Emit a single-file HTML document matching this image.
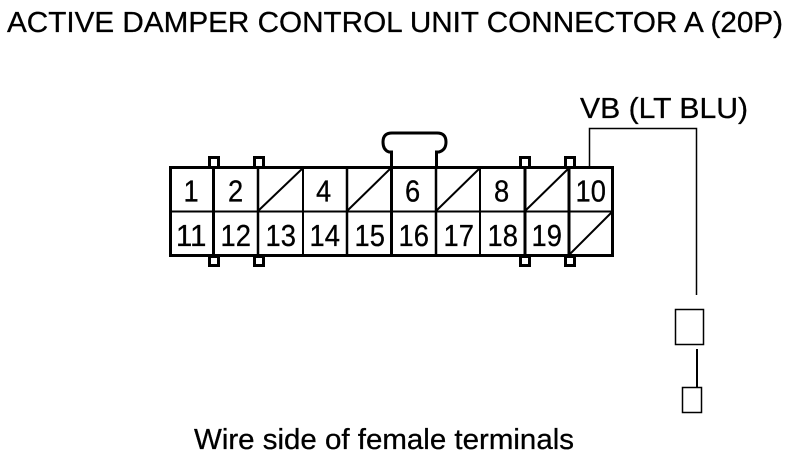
<!DOCTYPE html>
<html><head><meta charset="utf-8"><style>
html,body{margin:0;padding:0;background:#fff;width:800px;height:458px;overflow:hidden}
svg{display:block}
text{font-family:"Liberation Sans",sans-serif;fill:#000;stroke:#000;stroke-width:.3px}
</style></head><body>
<svg width="800" height="458" viewBox="0 0 800 458" xmlns="http://www.w3.org/2000/svg">
<g fill="#fff" stroke="#000" stroke-width="3">
<rect x="209.500" y="157.500" width="9" height="10"/>
<rect x="254.500" y="157.500" width="9" height="10"/>
<rect x="520.500" y="157.500" width="9" height="10"/>
<rect x="565.500" y="157.500" width="9" height="10"/>
<rect x="209.500" y="256.500" width="9" height="9"/>
<rect x="254.500" y="256.500" width="9" height="9"/>
<rect x="520.500" y="256.500" width="9" height="9"/>
<rect x="565.500" y="256.500" width="9" height="9"/>
</g>
<path d="M391.500 167V152H389Q383 150 383 142Q383 133 392 133H437Q446 133 446 142Q446 150 439 152H436.500V167" fill="none" stroke="#000" stroke-width="3"/>
<rect x="170.500" y="167.500" width="442" height="88" fill="#fff" stroke="#000" stroke-width="3"/>
<path d="M170 211.500H612" stroke="#000" stroke-width="2" fill="none"/>
<g stroke="#000" stroke-width="2" fill="none">
<path d="M303 168V255M480 168V255"/>
<path d="M258 168V255M347 168V255M436 168V255" stroke-width="2.500"/>
<path d="M213.500 168V255M391.500 168V255M525 168V255M569 168V255" stroke-width="3"/>
<path d="M258 211L303 168M347 211L391 168M436 211L480 168M525 211L569 168M569 255L612 212"/>
</g>
<path d="M589.500 167V128.500H696.500V295" fill="none" stroke="#000" stroke-width="1.500"/>
<path d="M697 349V388" fill="none" stroke="#000" stroke-width="2"/>
<rect x="675.500" y="309.500" width="28" height="35" fill="none" stroke="#000" stroke-width="1.500"/>
<rect x="682.500" y="387.500" width="19" height="25" fill="none" stroke="#000" stroke-width="1.500"/>
<text x="7" y="32" font-size="29" textLength="776" lengthAdjust="spacingAndGlyphs">ACTIVE DAMPER CONTROL UNIT CONNECTOR A (20P)</text>
<text x="580" y="118" font-size="29" textLength="168" lengthAdjust="spacingAndGlyphs">VB (LT BLU)</text>
<text x="194" y="449" font-size="29" textLength="380" lengthAdjust="spacingAndGlyphs">Wire side of female terminals</text>
<g font-size="31">
<text x="183.500" y="201.500" textLength="15.200" lengthAdjust="spacingAndGlyphs">1</text>
<text x="228" y="201.500" textLength="15.200" lengthAdjust="spacingAndGlyphs">2</text>
<text x="316" y="201.500" textLength="15.200" lengthAdjust="spacingAndGlyphs">4</text>
<text x="405" y="201.500" textLength="15.200" lengthAdjust="spacingAndGlyphs">6</text>
<text x="494" y="201.500" textLength="15.200" lengthAdjust="spacingAndGlyphs">8</text>
<text x="575.500" y="201.500" textLength="30.400" lengthAdjust="spacingAndGlyphs">10</text>
<text x="176" y="246" textLength="30.400" lengthAdjust="spacingAndGlyphs">11</text>
<text x="220.500" y="246" textLength="30.400" lengthAdjust="spacingAndGlyphs">12</text>
<text x="265.500" y="246" textLength="30.400" lengthAdjust="spacingAndGlyphs">13</text>
<text x="309.500" y="246" textLength="30.400" lengthAdjust="spacingAndGlyphs">14</text>
<text x="354.500" y="246" textLength="30.400" lengthAdjust="spacingAndGlyphs">15</text>
<text x="398.500" y="246" textLength="30.400" lengthAdjust="spacingAndGlyphs">16</text>
<text x="443.500" y="246" textLength="30.400" lengthAdjust="spacingAndGlyphs">17</text>
<text x="487.500" y="246" textLength="30.400" lengthAdjust="spacingAndGlyphs">18</text>
<text x="531.500" y="246" textLength="30.400" lengthAdjust="spacingAndGlyphs">19</text>
</g>
</svg>
</body></html>
